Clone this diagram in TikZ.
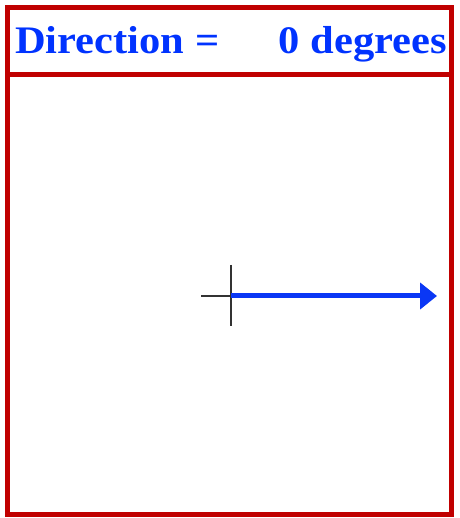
\documentclass[tikz,border=0pt]{standalone}
\usepackage{fontspec}
\setmainfont{Liberation Serif}
\usetikzlibrary{arrows.meta}
\definecolor{frame}{RGB}{192,0,0}
\definecolor{txtblue}{RGB}{0,51,255}
\definecolor{arrblue}{RGB}{10,55,245}
\definecolor{cross}{RGB}{50,50,50}
\begin{document}
\begin{tikzpicture}[x=1pt,y=1pt,
  frameline/.style={draw=frame,line width=5pt},
  title/.style={inner sep=0pt,text=txtblue,font=\bfseries\fontsize{39}{39}\selectfont},
  crossline/.style={draw=cross,line width=1.8pt},
  dirarrow/.style={draw=arrblue,line width=5pt,-{Triangle[length=17pt,width=26pt]}}]
\useasboundingbox (0,0) rectangle (459,518);
\fill[white] (0,0) rectangle (459,518);
% frame
\draw[frameline] (7.5,3) rectangle (451.5,510.5);
\draw[frameline] (7.5,443) -- (451.5,443);
% title
\node[title,anchor=base west] (lbl) at (15,464) {\scalebox{1.09}[1]{Direction =}};
\node[title,anchor=base east] (val) at (447,464) {\scalebox{1.09}[1]{0 degrees}};
% crosshair
\coordinate (c) at (231,222);
\coordinate (ct) at (231,253);
\coordinate (cb) at (231,192);
\coordinate (cl) at (201,222);
\coordinate (e) at (437,222);
\draw[crossline] (ct) -- (cb);
\draw[crossline] (cl) -- (c);
\draw[dirarrow] (c) -- (e);
\end{tikzpicture}
\end{document}
